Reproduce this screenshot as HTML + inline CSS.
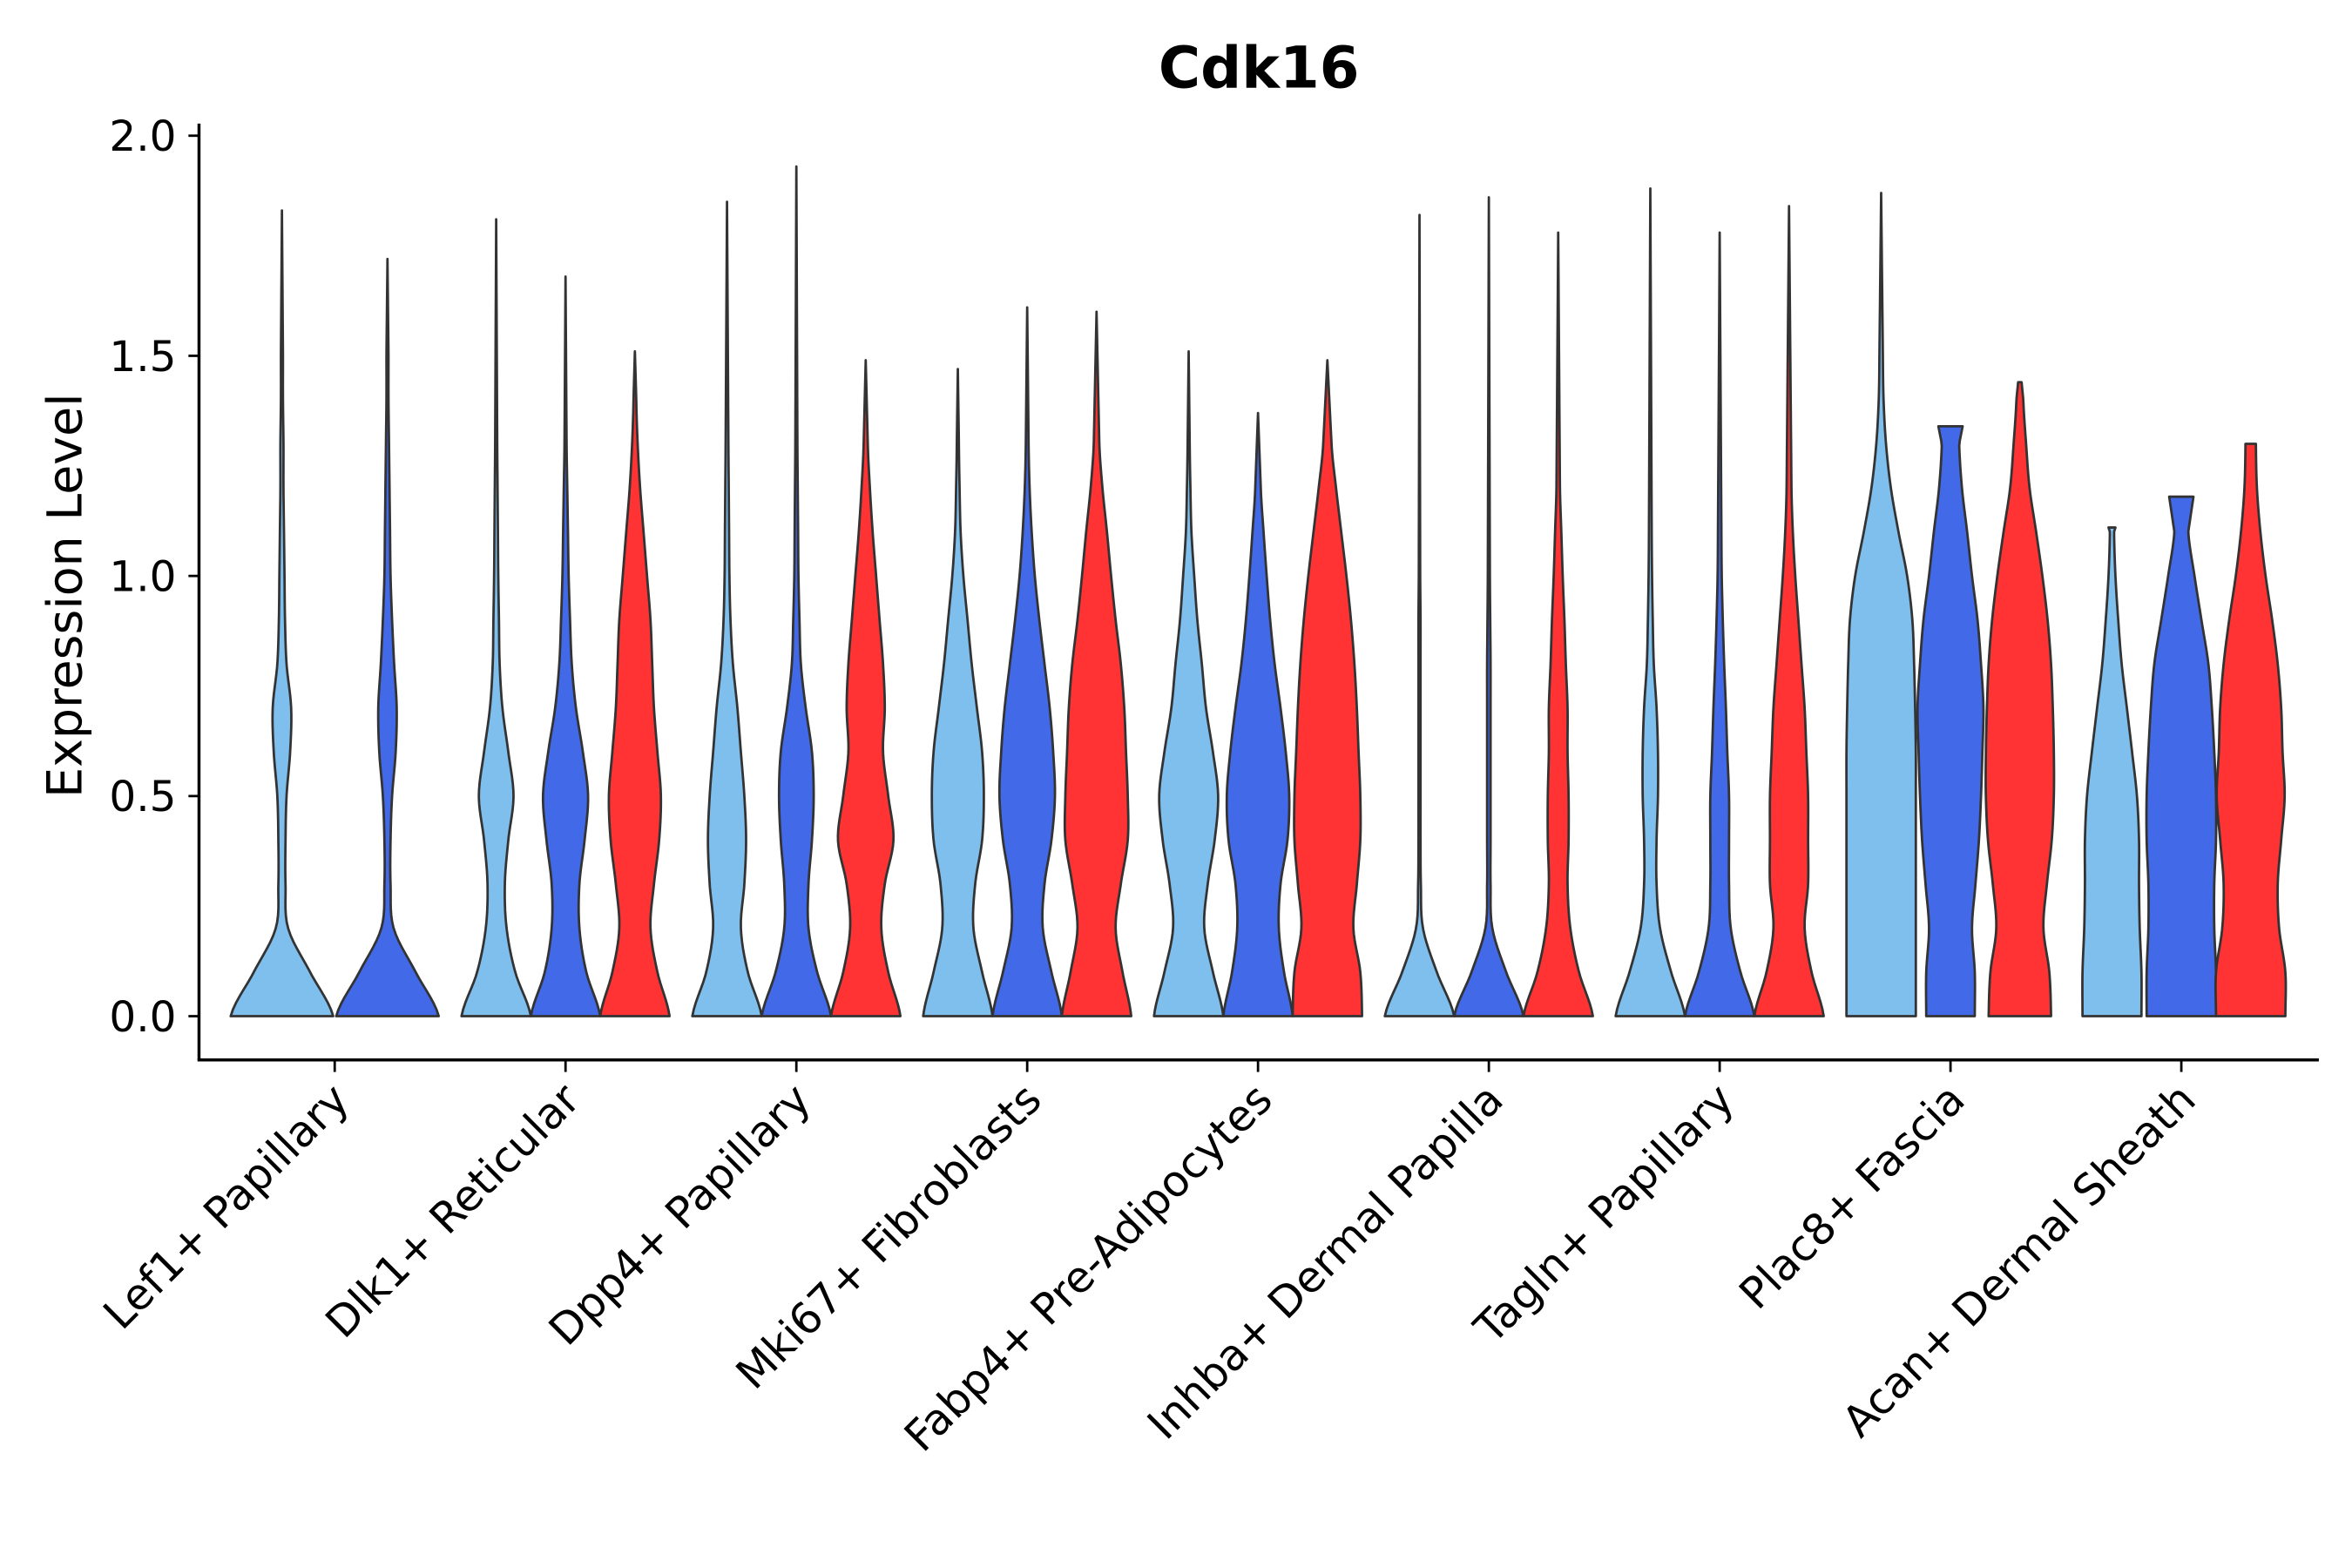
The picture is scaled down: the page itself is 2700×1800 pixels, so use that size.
<!DOCTYPE html>
<html><head><meta charset="utf-8"><style>
html,body{margin:0;padding:0;background:#fff;}
svg{display:block;}
text{font-family:"DejaVu Sans","Liberation Sans",sans-serif;fill:#000;}
</style></head><body>
<svg id="chart" width="2700" height="1800" viewBox="0 0 1560 1040" xmlns="http://www.w3.org/2000/svg">
<text x="835" y="58" font-size="38" font-weight="bold" text-anchor="middle">Cdk16</text>
<text transform="translate(54,395) rotate(-90)" font-size="32" text-anchor="middle">Expression Level</text>
<g id="violins"></g>
<g id="axes"></g>
</svg>
<script>
const categories = ["Lef1+ Papillary","Dlk1+ Reticular","Dpp4+ Papillary","Mki67+ Fibroblasts","Fabp4+ Pre-Adipocytes","Inhba+ Dermal Papilla","Tagln+ Papillary","Plac8+ Fascia","Acan+ Dermal Sheath"];
const yTicks = [0, 0.5, 1.0, 1.5, 2.0];
const yTickLabels = ["0.0","0.5","1.0","1.5","2.0"];
const seriesColors = ["#7fbfee","#4169e8","#ff3333"];
// max expression per violin [light, blue, red] (null = absent)
const maxValues = [
 [1.83,1.72,null],[1.81,1.68,1.51],[1.85,1.93,1.49],[1.47,1.61,1.60],[1.51,1.37,1.49],
 [1.82,1.86,1.78],[1.88,1.78,1.84],[1.87,1.34,1.44],[1.11,1.18,1.30]];
// density half-widths sampled at 0, 0.1, 0.2, ...
const densities = [
 [[1,0.55,0.12,0.07,0.07,0.09,0.16,0.18,0.09,0.06,0.05,0.04,0.03,0.03,0.02,0.02],
  [1,0.55,0.12,0.06,0.06,0.09,0.16,0.18,0.13,0.09,0.06,0.05,0.04,0.03,0.02,0.02],null],
 [[1,0.55,0.3,0.25,0.35,0.5,0.35,0.18,0.1,0.08,0.06,0.05,0.04,0.03],
  [1,0.6,0.4,0.4,0.55,0.65,0.5,0.3,0.18,0.13,0.09,0.07,0.05,0.03],
  [1,0.65,0.45,0.55,0.7,0.75,0.65,0.55,0.5,0.45,0.35,0.25,0.15,0.08,0.04]],
 [[1,0.6,0.4,0.5,0.55,0.5,0.4,0.3,0.17,0.1,0.07,0.06,0.05,0.04],
  [1,0.6,0.35,0.35,0.45,0.5,0.45,0.27,0.13,0.09,0.06,0.05,0.04,0.03],
  [1,0.65,0.45,0.55,0.8,0.65,0.5,0.55,0.5,0.4,0.3,0.2,0.12,0.06]],
 [[1,0.7,0.45,0.5,0.7,0.75,0.7,0.55,0.4,0.28,0.16,0.08,0.05,0.03],
  [1,0.7,0.45,0.5,0.7,0.8,0.75,0.65,0.5,0.35,0.22,0.13,0.07,0.04],
  [1,0.75,0.55,0.7,0.9,0.9,0.85,0.8,0.7,0.55,0.42,0.3,0.17,0.08]],
 [[1,0.7,0.45,0.55,0.75,0.85,0.7,0.5,0.38,0.25,0.16,0.08,0.05,0.03],
  [1,0.75,0.6,0.65,0.85,0.9,0.8,0.65,0.48,0.35,0.25,0.16,0.08],
  [1,0.95,0.75,0.85,0.95,0.95,0.9,0.85,0.78,0.68,0.55,0.4,0.25,0.12]],
 [[1,0.5,0.1,0.04,0.03,0.03,0.03,0.03,0.03,0.03,0.02],
  [1,0.5,0.1,0.05,0.05,0.05,0.05,0.05,0.05,0.04,0.03],
  [1,0.6,0.35,0.27,0.3,0.3,0.27,0.27,0.22,0.18,0.13,0.09,0.05]],
 [[1,0.6,0.28,0.18,0.18,0.22,0.22,0.18,0.1,0.07,0.05,0.04],
  [1,0.6,0.32,0.27,0.27,0.27,0.22,0.18,0.13,0.09,0.06,0.05],
  [1,0.65,0.45,0.55,0.55,0.55,0.5,0.45,0.36,0.27,0.18,0.11,0.07]],
 [[1,1,1,1,1,1,1,0.98,0.95,0.9,0.75,0.5,0.28,0.14,0.07,0.05],
  [0.7,0.7,0.62,0.72,0.82,0.88,0.92,0.95,0.88,0.78,0.62,0.48,0.33,0.25],
  [0.9,0.85,0.68,0.78,0.92,0.98,0.98,0.95,0.9,0.8,0.65,0.47,0.28,0.18,0.1]],
 [[0.85,0.85,0.8,0.78,0.78,0.72,0.58,0.43,0.28,0.18,0.1,0.06],
  [1,1,0.95,0.95,1,1,0.95,0.88,0.78,0.58,0.38,0.2],
  [1,1,0.82,0.78,0.88,0.98,0.92,0.88,0.78,0.62,0.43,0.28,0.18,0.15]]];
const capWidths = [[0,0,0],[0,0,0],[0,0,0],[0,0,0],[0,0,0],[0,0,0],[0,0,0],[0,0.35,0.05],[0.1,0.35,0.3]];

const NS="http://www.w3.org/2000/svg";
const X0=132, X1=1538, Y0=703;
function yScale(v){return 674 - v*292;}
function xCenter(i){return 222 + i*153.1;}
const vg=document.getElementById('violins'), ag=document.getElementById('axes');
function mk(tag,attrs,parent){const e=document.createElementNS(NS,tag);for(const k in attrs)e.setAttribute(k,attrs[k]);parent.appendChild(e);return e;}

function widthAt(d,max,cap,v){
  const n=d.length, lastV=(n-1)*0.1;
  if(v<=lastV){
    const g=k=>d[Math.max(0,Math.min(n-1,k))];
    const i=Math.min(Math.floor(v/0.1+1e-9),n-2),t=v/0.1-i;
    const p0=g(i-1),p1=g(i),p2=g(i+1),p3=g(i+2);
    const r=0.5*((2*p1)+(-p0+p2)*t+(2*p0-5*p1+4*p2-p3)*t*t+(-p0+3*p1-3*p2+p3)*t*t*t);
    return Math.max(0.01,r);}
  const t=(v-lastV)/Math.max(max-lastV,1e-6);return d[n-1]+(cap-d[n-1])*t;
}

categories.forEach((c,i)=>{
  const present=[0,1,2].filter(s=>maxValues[i][s]!==null);
  const two=present.length===2;
  const offs=two?[-35,35]:[-46,0,46];
  const half=two?34:23;
  present.forEach((s,k)=>{
    const cx=xCenter(i)+offs[k], mx=maxValues[i][s], d=densities[i][s];
    let L=[],R=[];
    const steps=120;
    for(let j=0;j<=steps;j++){const v=mx*j/steps;const w=widthAt(d,mx,capWidths[i][s],v)*half;
      R.push((cx+w).toFixed(2)+","+yScale(v).toFixed(2));L.unshift((cx-w).toFixed(2)+","+yScale(v).toFixed(2));}
    const p=mk('path',{d:"M"+R.join(" L")+" L"+L.join(" L")+" Z",fill:seriesColors[s],stroke:"#333",'stroke-width':1.6,'stroke-linejoin':'round'},vg);
    
    
  });
});

let yl=mk('line',{x1:X0,y1:82,x2:X0,y2:Y0,stroke:'#000','stroke-width':2},ag);


let xl=mk('line',{x1:X0-1,y1:Y0,x2:X1,y2:Y0,stroke:'#000','stroke-width':2},ag);


yTicks.forEach((t,k)=>{
  const y=yScale(t);
  const tk=mk('line',{x1:X0-7,y1:y,x2:X0,y2:y,stroke:'#000','stroke-width':1.6},ag);
  
  
  const tx=mk('text',{x:X0-15,y:y+10,'font-size':28,'text-anchor':'end'},ag);
  tx.textContent=yTickLabels[k];
  
  
});
categories.forEach((c,i)=>{
  const x=xCenter(i);
  const tk=mk('line',{x1:x,y1:Y0,x2:x,y2:Y0+8,stroke:'#000','stroke-width':1.6},ag);
  
  
  const tx=mk('text',{transform:`translate(${x+11},${Y0+28}) rotate(-45)`,'font-size':28.5,'text-anchor':'end'},ag);
  tx.textContent=c;
  
  
});
</script>
</body></html>
